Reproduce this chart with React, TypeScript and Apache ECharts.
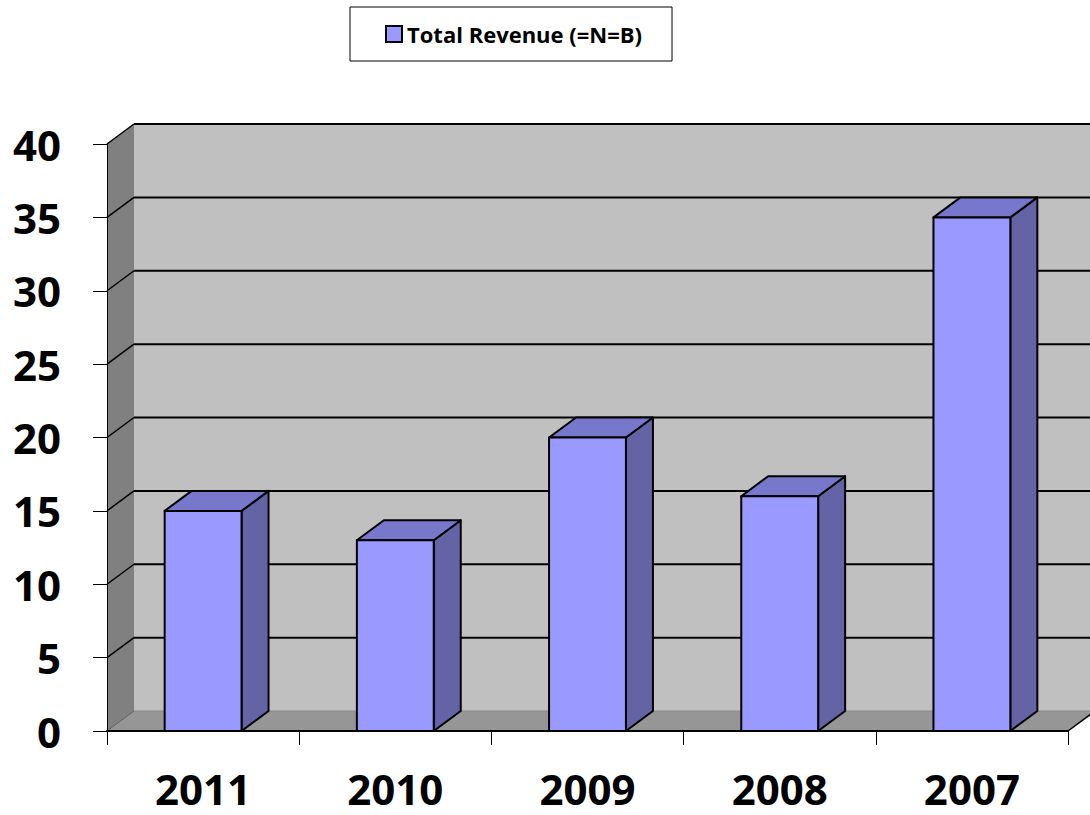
import React, { useEffect, useRef } from "react";
import * as echarts from "echarts";

const categories = ["2011", "2010", "2009", "2008", "2007"];
const revenue = [15, 13, 20, 16, 35];
const yTicks = [0, 5, 10, 15, 20, 25, 30, 35, 40];
const seriesName = "Total Revenue (=N=B)";

const DX = 27;
const DY = -20;
const FONT = "'Open Sans', 'DejaVu Sans', sans-serif";

export default function App() {
  const ref = useRef<HTMLDivElement>(null);
  useEffect(() => {
    if (!ref.current) return;
    const chart = echarts.init(ref.current, undefined, { renderer: "svg" });
    const option: any = {
      animation: false,
      backgroundColor: "#ffffff",
      legend: {
        left: 350,
        top: 7,
        padding: [14, 30, 14, 35],
        backgroundColor: "#ffffff",
        borderColor: "#000000",
        borderWidth: 1,
        itemWidth: 16,
        itemHeight: 16,
        data: [
          {
            name: seriesName,
            icon: "rect",
            itemStyle: { color: "#9999FF", borderColor: "#000000", borderWidth: 2 },
          },
        ],
        textStyle: { fontFamily: FONT, fontWeight: "bold", fontSize: 22, lineHeight: 26, color: "#000" },
      },
      grid: { left: 107, right: 22, top: 144, bottom: 84 },
      xAxis: {
        type: "category",
        data: categories,
        boundaryGap: true,
        axisLine: { show: true, lineStyle: { color: "#000", width: 2 } },
        axisTick: { show: true, length: 14, lineStyle: { color: "#000", width: 1 } },
        axisLabel: { fontFamily: FONT, fontWeight: "bold", fontSize: 42, color: "#000", margin: 36 },
        splitLine: { show: false },
      },
      yAxis: {
        type: "value",
        min: 0,
        max: 40,
        interval: 5,
        axisLine: { show: true, lineStyle: { color: "#000", width: 1 } },
        axisTick: { show: true, length: 14, lineStyle: { color: "#000", width: 1 } },
        axisLabel: { fontFamily: FONT, fontWeight: "bold", fontSize: 42, color: "#000", margin: 46 },
        splitLine: { show: false },
      },
      series: [
        {
          type: "custom",
          name: "walls",
          z: -1,
          silent: true,
          data: yTicks.map((v) => [0, v]),
          renderItem: (params: any, api: any) => {
            const cs = params.coordSys;
            const x0 = cs.x;
            const x1 = cs.x + cs.width;
            const v = api.value(1);
            const y = api.coord([0, v])[1];
            const yb = api.coord([0, 0])[1];
            const yt = api.coord([0, 40])[1];
            const children: any[] = [];
            if (params.dataIndex === 0) {
              children.push({
                type: "polygon",
                shape: { points: [[x0, yb], [x0, yt], [x0 + DX, yt + DY], [x0 + DX, yb + DY]] },
                style: { fill: "#808080", stroke: "none" },
              });
              children.push({
                type: "rect",
                shape: { x: x0 + DX, y: yt + DY, width: x1 - x0 + 10, height: yb - yt },
                style: { fill: "#C0C0C0", stroke: "none" },
              });
              children.push({
                type: "polygon",
                shape: { points: [[x0, yb], [x0 + DX, yb + DY], [x1 + DX, yb + DY], [x1, yb]] },
                style: { fill: "#969696", stroke: "none" },
              });
              children.push({
                type: "line",
                shape: { x1: x1, y1: yb, x2: x1 + DX, y2: yb + DY },
                style: { stroke: "#000", lineWidth: 1.5 },
              });
            }
            const isZero = v === 0;
            children.push({
              type: "line",
              shape: { x1: x0 + DX, y1: y + DY, x2: x1 + DX + 10, y2: y + DY },
              style: { stroke: isZero ? "#8a8a8a" : "#000", lineWidth: isZero ? 1 : 2 },
            });
            children.push({
              type: "line",
              shape: { x1: x0, y1: y, x2: x0 + DX, y2: y + DY },
              style: { stroke: isZero ? "#606060" : "#000", lineWidth: isZero ? 1 : 1.5 },
            });
            return { type: "group", children };
          },
        },
        {
          type: "custom",
          name: seriesName,
          z: 3,
          itemStyle: { color: "#9999FF" },
          data: revenue.map((v, i) => [i, v]),
          renderItem: (params: any, api: any) => {
            const cat = api.value(0);
            const val = api.value(1);
            const base = api.coord([cat, 0]);
            const top = api.coord([cat, val]);
            const w = api.size([1, 0])[0] * 0.4;
            const xl = base[0] - w / 2;
            const xr = base[0] + w / 2;
            const ty = top[1];
            const by = base[1];
            const stroke = { stroke: "#000", lineWidth: 2, lineJoin: "round" };
            return {
              type: "group",
              children: [
                {
                  type: "polygon",
                  shape: { points: [[xr, ty], [xr + DX, ty + DY], [xr + DX, by + DY], [xr, by]] },
                  style: { fill: "#6363A6", ...stroke },
                },
                {
                  type: "polygon",
                  shape: { points: [[xl, ty], [xl + DX, ty + DY], [xr + DX, ty + DY], [xr, ty]] },
                  style: { fill: "#7777CC", ...stroke },
                },
                {
                  type: "rect",
                  shape: { x: xl, y: ty, width: w, height: by - ty },
                  style: { fill: "#9999FF", ...stroke },
                },
              ],
            };
          },
        },
      ],
    };
    chart.setOption(option);
    return () => chart.dispose();
  }, []);
  return (
    <div
      ref={ref}
      style={{ position: "fixed", left: 0, top: 0, width: 1090, height: 815 }}
    />
  );
}
